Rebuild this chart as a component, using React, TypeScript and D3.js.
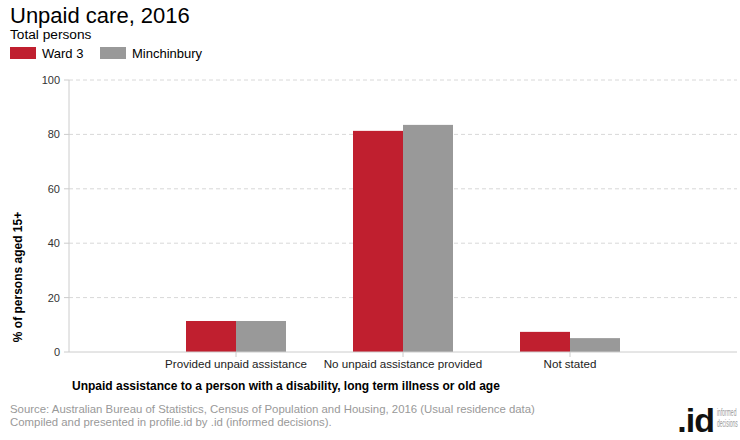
import React from "react";
import * as d3 from "d3";

const categories = ["Provided unpaid assistance", "No unpaid assistance provided", "Not stated"];
const seriesNames = ["Ward 3", "Minchinbury"];
const ward3 = [11.4, 81.3, 7.4];
const minchinbury = [11.4, 83.5, 5.1];
const yTicks = [0, 20, 40, 60, 80, 100];
const colors = ["#C01F2F", "#999999"];

const W = 740, H = 440;
const left = 69, right = 737, top = 80, bottom = 352;
const font = "'Liberation Sans', Arial, sans-serif";

export default function App() {
  const x = d3.scalePoint<string>().domain(categories).range([left, right]).padding(1);
  const y = d3.scaleLinear().domain([0, 100]).range([bottom, top]);
  const barW = 50;
  const series = [ward3, minchinbury];
  return (
    <svg width={W} height={H} style={{ position: "absolute", left: 0, top: 0, background: "#fff" }} fontFamily={font}>
      <text x={10} y={23} fontSize={22} fill="#000">Unpaid care, 2016</text>
      <text x={10} y={39} fontSize={13.7} fill="#000">Total persons</text>
      {seriesNames.map((n, i) => (
        <g key={n} transform={`translate(${10 + i * 90},47)`}>
          <rect x={0} y={0} width={26} height={12} fill={colors[i]} />
          <text x={32} y={11} fontSize={13} fill="#000">{n}</text>
        </g>
      ))}
      {yTicks.map((t) => (
        <g key={t}>
          {t > 0 && (
            <line x1={left} x2={right} y1={y(t)} y2={y(t)} stroke="#d8d8d8" strokeDasharray="4,3" />
          )}
          <line x1={left - 5} x2={left} y1={y(t)} y2={y(t)} stroke="#ccc" />
          <text x={left - 9} y={y(t) + 4} fontSize={11} textAnchor="end" fill="#333">{t}</text>
        </g>
      ))}
      <line x1={left} x2={left} y1={top} y2={bottom} stroke="#ccc" />
      {categories.map((c, ci) =>
        series.map((s, si) => (
          <rect key={c + si} x={(x(c) as number) - barW + si * barW} y={y(s[ci])} width={barW} height={bottom - y(s[ci])} fill={colors[si]} />
        ))
      )}
      <line x1={left} x2={right} y1={bottom} y2={bottom} stroke="#ccc" />
      {categories.map((c) => (
        <g key={c}>
          <line x1={x(c)} x2={x(c)} y1={bottom} y2={bottom + 5} stroke="#ccc" />
          <text x={x(c)} y={bottom + 16} fontSize={11.6} textAnchor="middle" fill="#222">{c}</text>
        </g>
      ))}
      <text transform={`translate(22,${(top + bottom) / 2 + 61}) rotate(-90)`} fontSize={12} fontWeight="bold" textAnchor="middle" fill="#000">% of persons aged 15+</text>
      <text x={72} y={390} fontSize={12} fontWeight="bold" fill="#000">Unpaid assistance to a person with a disability, long term illness or old age</text>
      <text x={10} y={413} fontSize={11.4} fill="#999">Source: Australian Bureau of Statistics, Census of Population and Housing, 2016 (Usual residence data)</text>
      <text x={10} y={426} fontSize={11.4} fill="#999">Compiled and presented in profile.id by .id (informed decisions).</text>
      <text x={714} y={432} fontSize={34} fontWeight="bold" fill="#111" textAnchor="end" letterSpacing={-1}>.id</text>
      <g transform="translate(717,0) scale(0.5,1)">
        <text x={0} y={416} fontSize={10} fill="#999">informed</text>
        <text x={0} y={427} fontSize={10} fill="#999">decisions</text>
      </g>
    </svg>
  );
}
